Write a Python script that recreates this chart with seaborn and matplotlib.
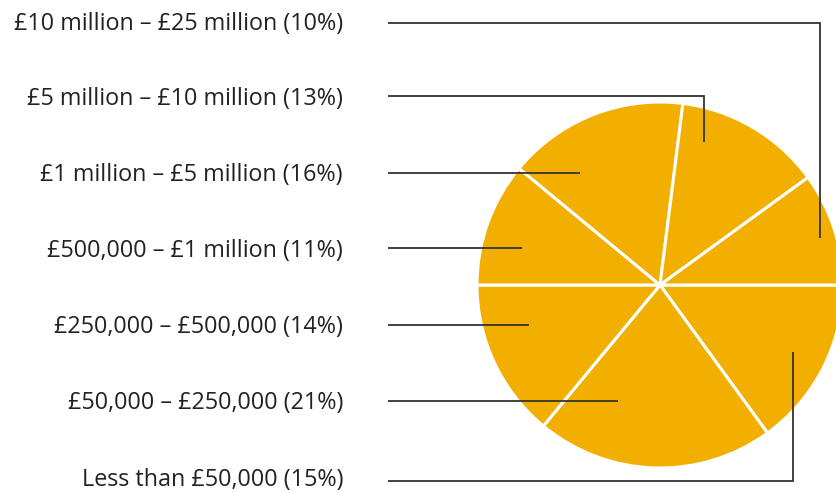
import matplotlib
matplotlib.use("Agg")
import matplotlib.pyplot as plt
import seaborn as sns

sns.set_theme(style="white")
plt.rcParams["font.family"] = ["Open Sans", "DejaVu Sans"]

# Share of organisations by size band (clockwise from 3 o'clock)
categories = [
    "Less than £50,000",
    "£50,000 – £250,000",
    "£250,000 – £500,000",
    "£500,000 – £1 million",
    "£1 million – £5 million",
    "£5 million – £10 million",
    "£10 million – £25 million",
]
shares = [15, 21, 14, 11, 16, 13, 10]

# Order in which labels are listed down the left side (top to bottom)
label_order = [6, 5, 4, 3, 2, 1, 0]

W, H = 836, 493
fig = plt.figure(figsize=(W / 100, H / 100), dpi=100)
ax = fig.add_axes([0, 0, 1, 1])

cx, cy, r = 660, H - 285, 183
pie_color = "#F3AF00"
ax.pie(
    shares,
    startangle=0,
    counterclock=False,
    colors=[pie_color] * len(shares),
    center=(cx, cy),
    radius=r,
    wedgeprops=dict(edgecolor="white", linewidth=2.2),
    frame=False,
)
ax.set_xlim(0, W)
ax.set_ylim(0, H)
ax.set_aspect("equal")
ax.axis("off")

# Label rows and leader line paths (screen pixel coords, y measured from top)
label_y = [24, 99, 175, 251, 327, 403, 480]
leaders = [
    [(388, 23), (820, 23), (820, 238)],
    [(388, 96), (704, 96), (704, 142)],
    [(388, 173), (580, 173)],
    [(388, 248), (522, 248)],
    [(388, 325), (529, 325)],
    [(388, 401), (618, 401)],
    [(388, 481), (793, 481), (793, 352)],
]

for row, idx in enumerate(label_order):
    ax.text(343, H - label_y[row], f"{categories[idx]} ({shares[idx]}%)",
            ha="right", va="center", fontsize=16.8, color="#222222")
    xs = [p[0] for p in leaders[row]]
    ys = [H - p[1] for p in leaders[row]]
    ax.plot(xs, ys, color="#333333", linewidth=1.3, solid_joinstyle="miter",
            solid_capstyle="butt")

fig.savefig("out.png", dpi=100)
